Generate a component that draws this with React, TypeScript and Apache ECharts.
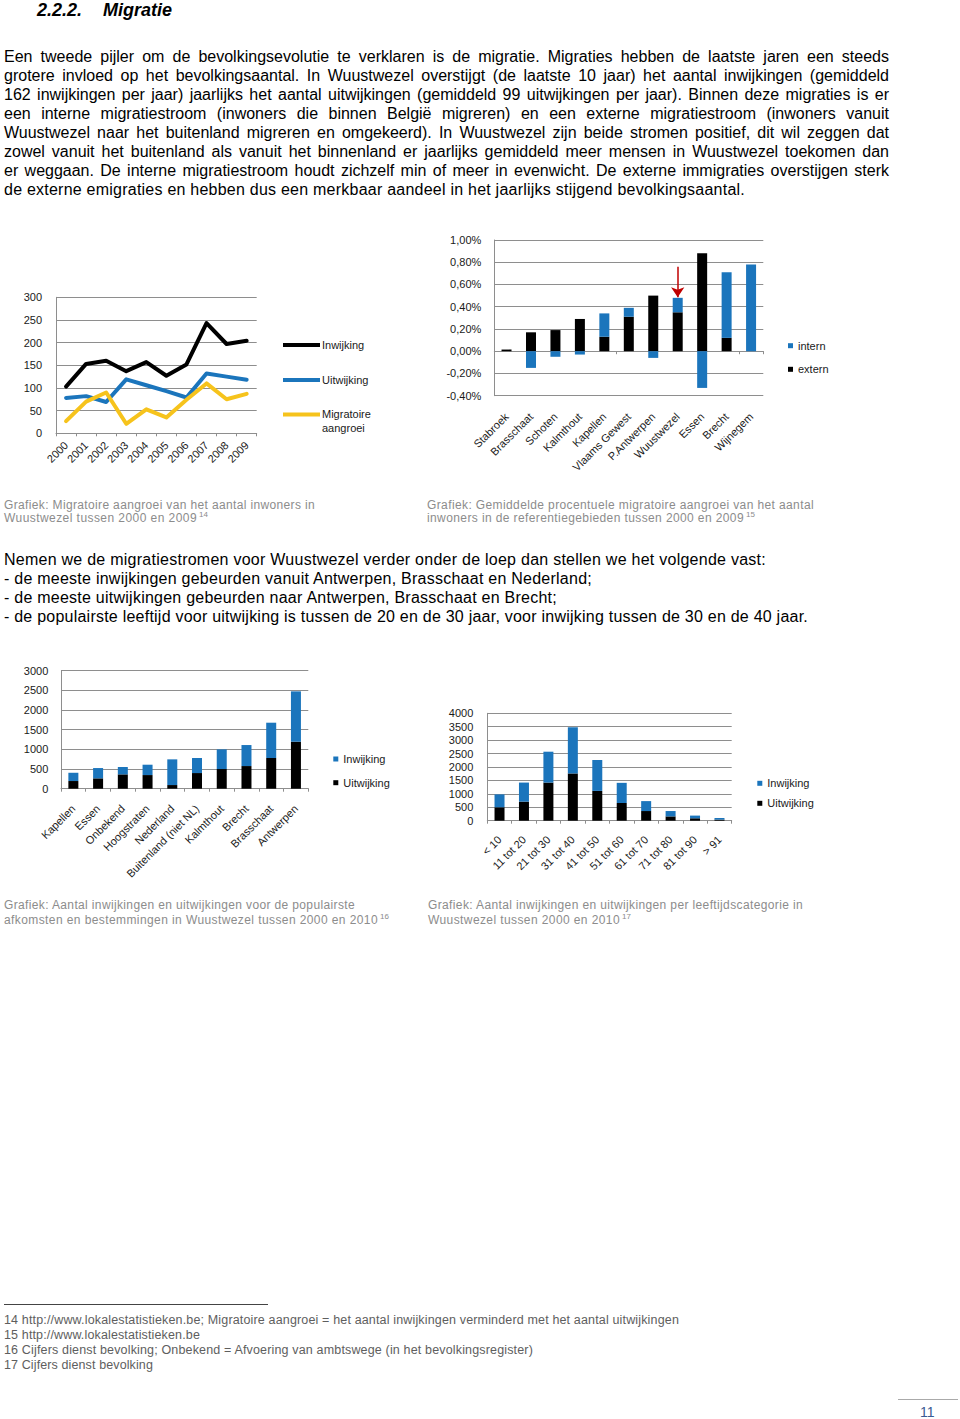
import React, { useEffect, useLayoutEffect, useRef } from 'react';
import * as echarts from 'echarts';

const FONT = '"Liberation Sans", Arial, Helvetica, sans-serif';
const BLUE = '#1b75bc';
const BLACK = '#000000';
const YELLOW = '#f6c31c';
const GRID = '#8e8e8e';
const LABEL = '#1a1a1a';
const CAPTION = '#8c8c8c';
const NOTE = '#5e5e5e';

// ---------- Chart 1: migratoire aangroei per jaar ----------
const years = ['2000', '2001', '2002', '2003', '2004', '2005', '2006', '2007', '2008', '2009'];
const inwijkingYear = [103, 153, 160, 137, 157, 127, 152, 243, 197, 204];
const uitwijkingYear = [78, 82, 69, 119, 106, 93, 79, 132, 125, 118];
const aangroeiYear = [27, 70, 90, 21, 53, 35, 74, 110, 75, 87];
const yearTicks = { min: 0, max: 300, step: 50 };

// ---------- Chart 2: procentuele migratoire aangroei ----------
const regions = ['Stabroek', 'Brasschaat', 'Schoten', 'Kalmthout', 'Kapellen', 'Vlaams Gewest', 'P.Antwerpen', 'Wuustwezel', 'Essen', 'Brecht', 'Wijnegem'];
const internPct = [0, -0.15, -0.05, -0.03, 0.21, 0.08, -0.06, 0.13, -0.33, 0.59, 0.78];
const externPct = [0.015, 0.17, 0.19, 0.29, 0.13, 0.31, 0.5, 0.35, 0.88, 0.12, 0];
const pctTicks = { min: -0.4, max: 1.0, step: 0.2 };
const arrowRegion = 'Wuustwezel';
const arrowFrom = 0.76;
const arrowTo = 0.485;

// ---------- Chart 3: afkomsten en bestemmingen ----------
const origins = ['Kapellen', 'Essen', 'Onbekend', 'Hoogstraten', 'Nederland', 'Buitenland (niet NL)', 'Kalmthout', 'Brecht', 'Brasschaat', 'Antwerpen'];
const inwOrigin = [210, 262, 187, 263, 653, 382, 500, 534, 898, 1280];
const uitOrigin = [195, 263, 364, 347, 93, 398, 500, 576, 780, 1195];
const originTicks = { min: 0, max: 3000, step: 500 };

// ---------- Chart 4: leeftijdscategorieën ----------
const ages = ['< 10', '11 tot 20', '21 tot 30', '31 tot 40', '41 tot 50', '51 tot 60', '61 tot 70', '71 tot 80', '81 tot 90', '> 91'];
const inwAge = [480, 710, 1150, 1720, 1150, 750, 370, 200, 100, 60];
const uitAge = [500, 710, 1420, 1760, 1110, 660, 360, 160, 90, 40];
const ageTicks = { min: 0, max: 4000, step: 500 };

// ---------- Texts ----------
const paragraph1 = [
  'Een tweede pijler om de bevolkingsevolutie te verklaren is de migratie. Migraties hebben de laatste jaren een steeds',
  'grotere invloed op het bevolkingsaantal. In Wuustwezel overstijgt (de laatste 10 jaar) het aantal inwijkingen (gemiddeld',
  '162 inwijkingen per jaar) jaarlijks het aantal uitwijkingen (gemiddeld 99 uitwijkingen per jaar). Binnen deze migraties is er',
  'een interne migratiestroom (inwoners die binnen België migreren) en een externe migratiestroom (inwoners vanuit',
  'Wuustwezel naar het buitenland migreren en omgekeerd). In Wuustwezel zijn beide stromen positief, dit wil zeggen dat',
  'zowel vanuit het buitenland als vanuit het binnenland er jaarlijks gemiddeld meer mensen in Wuustwezel toekomen dan',
  'er weggaan. De interne migratiestroom houdt zichzelf min of meer in evenwicht. De externe immigraties overstijgen sterk',
  'de externe emigraties en hebben dus een merkbaar aandeel in het jaarlijks stijgend bevolkingsaantal.',
];
const paragraph2 = [
  'Nemen we de migratiestromen voor Wuustwezel verder onder de loep dan stellen we het volgende vast:',
  '- de meeste inwijkingen gebeurden vanuit Antwerpen, Brasschaat en Nederland;',
  '- de meeste uitwijkingen gebeurden naar Antwerpen, Brasschaat en Brecht;',
  '- de populairste leeftijd voor uitwijking is tussen de 20 en de 30 jaar, voor inwijking tussen de 30 en de 40 jaar.',
];
const paragraph2Widths = [762, 588, 553, 804];
const footnotes = [
  '14 http://www.lokalestatistieken.be; Migratoire aangroei = het aantal inwijkingen verminderd met het aantal uitwijkingen',
  '15 http://www.lokalestatistieken.be',
  '16 Cijfers dienst bevolking; Onbekend = Afvoering van ambtswege (in het bevolkingsregister)',
  '17 Cijfers dienst bevolking',
];
const footnoteWidths = [675, 196, 529, 149];

type LineProps = {
  text: string; x: number; y: number; size: number; lh?: number; width?: number;
  mode?: 'justify' | 'fit'; color?: string; bold?: boolean; italic?: boolean;
};

function TextLine({ text, x, y, size, lh, width, mode, color, bold, italic }: LineProps) {
  const ref = useRef<HTMLSpanElement>(null);
  const lineH = lh ?? Math.round(size * 1.2);
  useLayoutEffect(() => {
    const el = ref.current;
    if (!el || !width) return;
    el.style.letterSpacing = '0px';
    el.style.wordSpacing = '0px';
    const w = el.getBoundingClientRect().width;
    if (mode === 'justify') {
      const n = text.split(' ').length - 1;
      if (n > 0) el.style.wordSpacing = `${(width - w) / n}px`;
    } else {
      const n = Math.max(1, text.length);
      el.style.letterSpacing = `${(width - w) / n}px`;
    }
  }, [text, width, mode, size]);
  return (
    <span
      ref={ref}
      style={{
        position: 'absolute', left: x, top: y - lineH / 2, fontFamily: FONT, fontSize: size,
        lineHeight: `${lineH}px`, whiteSpace: 'pre', color: color ?? '#000',
        fontWeight: bold ? 'bold' : 'normal', fontStyle: italic ? 'italic' : 'normal',
      }}
    >
      {text}
    </span>
  );
}

const axisLabelStyle = { fontSize: 11, color: LABEL, fontFamily: FONT };
const plainNumber = (v: number) => String(v);

function valueAxis(t: { min: number; max: number; step: number }, margin: number, formatter: (v: number) => string = plainNumber) {
  return {
    type: 'value', min: t.min, max: t.max, interval: t.step,
    axisLine: { show: true, lineStyle: { color: GRID, width: 1 } },
    axisTick: { show: false },
    axisLabel: { ...axisLabelStyle, margin, formatter },
    splitLine: { show: true, lineStyle: { color: GRID, width: 1 } },
  };
}

function categoryAxis(data: string[], margin: number) {
  return {
    type: 'category', data, boundaryGap: true,
    axisLine: { show: true, lineStyle: { color: GRID, width: 1 } },
    axisTick: { show: true, length: 3, lineStyle: { color: GRID } },
    axisLabel: { ...axisLabelStyle, rotate: 45, interval: 0, margin },
    splitLine: { show: false },
  };
}

function barLegend(left: number, top: number, gap: number, names: string[]) {
  return {
    data: names, orient: 'vertical', left, top, itemWidth: 5, itemHeight: 5, itemGap: gap,
    padding: 0, icon: 'rect', selectedMode: false,
    textStyle: { fontSize: 11, color: LABEL, fontFamily: FONT },
  };
}

const lineLegendEntries = [
  { name: 'Inwijking', color: BLACK, y: 65, text: 'Inwijking' },
  { name: 'Uitwijking', color: BLUE, y: 100, text: 'Uitwijking' },
  { name: 'Migratoire aangroei', color: YELLOW, y: 134.5, text: 'Migratoire\naangroei' },
];

const optA = {
  animation: false,
  textStyle: { fontFamily: FONT },
  grid: { left: 56, top: 17.3, width: 200.7, height: 136 },
  xAxis: categoryAxis(years, 10),
  yAxis: valueAxis(yearTicks, 14),
  series: [
    { name: 'Inwijking', type: 'line', data: inwijkingYear, symbol: 'none', lineStyle: { color: BLACK, width: 4, join: 'round', cap: 'round' }, itemStyle: { color: BLACK } },
    { name: 'Uitwijking', type: 'line', data: uitwijkingYear, symbol: 'none', lineStyle: { color: BLUE, width: 4, join: 'round', cap: 'round' }, itemStyle: { color: BLUE } },
    { name: 'Migratoire aangroei', type: 'line', data: aangroeiYear, symbol: 'none', lineStyle: { color: YELLOW, width: 4, join: 'round', cap: 'round' }, itemStyle: { color: YELLOW } },
  ],
  graphic: lineLegendEntries.flatMap((e) => [
    { type: 'line', shape: { x1: 283, y1: e.y, x2: 320, y2: e.y }, style: { stroke: e.color, lineWidth: 4 } },
    { type: 'text', x: 322, y: e.y - 6.7, style: { text: e.text, font: `11px ${FONT}`, fill: LABEL, lineHeight: 13.4, verticalAlign: 'top' } },
  ]),
};

const pctFormatter = (v: number) => (Math.abs(v) < 1e-9 ? 0 : v).toFixed(2).replace('.', ',') + '%';

const optB = {
  animation: false,
  textStyle: { fontFamily: FONT },
  grid: { left: 54.3, top: 15, width: 269, height: 155.7 },
  xAxis: [
    {
      type: 'category', data: regions, position: 'bottom', boundaryGap: true,
      axisLine: { show: false, onZero: false }, axisTick: { show: false },
      axisLabel: { ...axisLabelStyle, rotate: 45, interval: 0, margin: 19 },
      splitLine: { show: false },
    },
    {
      type: 'category', data: regions, position: 'bottom', boundaryGap: true,
      axisLine: { show: true, onZero: true, lineStyle: { color: GRID, width: 1 } },
      axisTick: { show: true, length: 3, lineStyle: { color: GRID } },
      axisLabel: { show: false }, splitLine: { show: false },
    },
  ],
  yAxis: valueAxis(pctTicks, 13, pctFormatter),
  legend: barLegend(348, 115.2, 12.6, ['intern', 'extern']),
  series: [
    { name: 'extern', type: 'bar', stack: 'pct', xAxisIndex: 0, data: externPct, barWidth: 10, itemStyle: { color: BLACK } },
    {
      name: 'intern', type: 'bar', stack: 'pct', xAxisIndex: 0, data: internPct, barWidth: 10, itemStyle: { color: BLUE },
      markLine: {
        silent: true, symbol: ['none', 'arrow'], symbolSize: 10,
        lineStyle: { color: '#c00000', width: 1.5, type: 'solid' },
        label: { show: false },
        emphasis: { disabled: true },
        data: [[{ coord: [arrowRegion, arrowFrom] }, { coord: [arrowRegion, arrowTo] }]],
      },
    },
  ],
};

const optC = {
  animation: false,
  textStyle: { fontFamily: FONT },
  grid: { left: 61, top: 15.7, width: 247.3, height: 118 },
  xAxis: categoryAxis(origins, 18),
  yAxis: valueAxis(originTicks, 12.7),
  legend: barLegend(333.3, 98.5, 12.7, ['Inwijking', 'Uitwijking']),
  series: [
    { name: 'Uitwijking', type: 'bar', stack: 'c', data: uitOrigin, barWidth: 10, itemStyle: { color: BLACK } },
    { name: 'Inwijking', type: 'bar', stack: 'c', data: inwOrigin, barWidth: 10, itemStyle: { color: BLUE } },
  ],
};

const optD = {
  animation: false,
  textStyle: { fontFamily: FONT },
  grid: { left: 57.3, top: 13.3, width: 244.4, height: 107.4 },
  xAxis: categoryAxis(ages, 17),
  yAxis: valueAxis(ageTicks, 14),
  legend: barLegend(327.3, 77.8, 9, ['Inwijking', 'Uitwijking']),
  series: [
    { name: 'Uitwijking', type: 'bar', stack: 'd', data: uitAge, barWidth: 10, itemStyle: { color: BLACK } },
    { name: 'Inwijking', type: 'bar', stack: 'd', data: inwAge, barWidth: 10, itemStyle: { color: BLUE } },
  ],
};

export default function App() {
  const refA = useRef<HTMLDivElement>(null);
  const refB = useRef<HTMLDivElement>(null);
  const refC = useRef<HTMLDivElement>(null);
  const refD = useRef<HTMLDivElement>(null);

  useEffect(() => {
    const charts: echarts.ECharts[] = [];
    const specs: [HTMLDivElement | null, any][] = [
      [refA.current, optA], [refB.current, optB], [refC.current, optC], [refD.current, optD],
    ];
    for (const [el, opt] of specs) {
      if (!el) continue;
      const c = echarts.init(el, undefined, { renderer: 'svg' });
      c.setOption(opt);
      charts.push(c);
    }
    return () => charts.forEach((c) => c.dispose());
  }, []);

  const box = (left: number, top: number, width: number, height: number): React.CSSProperties => ({
    position: 'absolute', left, top, width, height,
  });

  return (
    <div style={{ position: 'absolute', left: 0, top: 0, width: 960, height: 1419, background: '#fff', overflow: 'hidden', fontFamily: FONT }}>
      <TextLine text="2.2.2." x={37} y={10} size={18} bold italic />
      <TextLine text="Migratie" x={103} y={10} size={18} bold italic />

      {paragraph1.map((t, i) => (
        <TextLine key={'p1' + i} text={t} x={4} y={56 + i * 19} size={16}
          width={i < paragraph1.length - 1 ? 885 : 741} mode={i < paragraph1.length - 1 ? 'justify' : 'fit'} />
      ))}

      <div ref={refA} style={box(0, 280, 440, 200)} />
      <div ref={refB} style={box(440, 225, 420, 260)} />

      <TextLine text="Grafiek: Migratoire aangroei van het aantal inwoners in" x={4} y={505} size={12} lh={11} width={311} mode="fit" color={CAPTION} />
      <TextLine text="Wuustwezel tussen 2000 en 2009" x={4} y={518} size={12} lh={11} width={193} mode="fit" color={CAPTION} />
      <TextLine text="14" x={199} y={514.5} size={8} lh={7} color={CAPTION} />
      <TextLine text="Grafiek: Gemiddelde procentuele migratoire aangroei van het aantal" x={427} y={505} size={12} lh={11} width={387} mode="fit" color={CAPTION} />
      <TextLine text="inwoners in de referentiegebieden tussen 2000 en 2009" x={427} y={518} size={12} lh={11} width={317} mode="fit" color={CAPTION} />
      <TextLine text="15" x={746} y={514.5} size={8} lh={7} color={CAPTION} />

      {paragraph2.map((t, i) => (
        <TextLine key={'p2' + i} text={t} x={4} y={559 + i * 19} size={16} width={paragraph2Widths[i]} mode="fit" />
      ))}

      <div ref={refC} style={box(0, 655, 430, 240)} />
      <div ref={refD} style={box(430, 700, 430, 190)} />

      <TextLine text="Grafiek: Aantal inwijkingen en uitwijkingen voor de populairste" x={4} y={905} size={12} lh={11} width={351} mode="fit" color={CAPTION} />
      <TextLine text="afkomsten en bestemmingen in Wuustwezel tussen 2000 en 2010" x={4} y={920} size={12} lh={11} width={374} mode="fit" color={CAPTION} />
      <TextLine text="16" x={380} y={916.5} size={8} lh={7} color={CAPTION} />
      <TextLine text="Grafiek: Aantal inwijkingen en uitwijkingen per leeftijdscategorie in" x={428} y={905} size={12} lh={11} width={375} mode="fit" color={CAPTION} />
      <TextLine text="Wuustwezel tussen 2000 en 2010" x={428} y={920} size={12} lh={11} width={192} mode="fit" color={CAPTION} />
      <TextLine text="17" x={622} y={916.5} size={8} lh={7} color={CAPTION} />

      <div style={{ position: 'absolute', left: 4, top: 1304, width: 264, height: 1, background: '#444' }} />
      {footnotes.map((t, i) => (
        <TextLine key={'fn' + i} text={t} x={4} y={1320 + i * 15} size={12.5} width={footnoteWidths[i]} mode="fit" color={NOTE} />
      ))}

      <div style={{ position: 'absolute', left: 898, top: 1399, width: 60, height: 1, background: '#aaa' }} />
      <TextLine text="11" x={920} y={1412} size={14} color="#3b5a92" />
    </div>
  );
}
